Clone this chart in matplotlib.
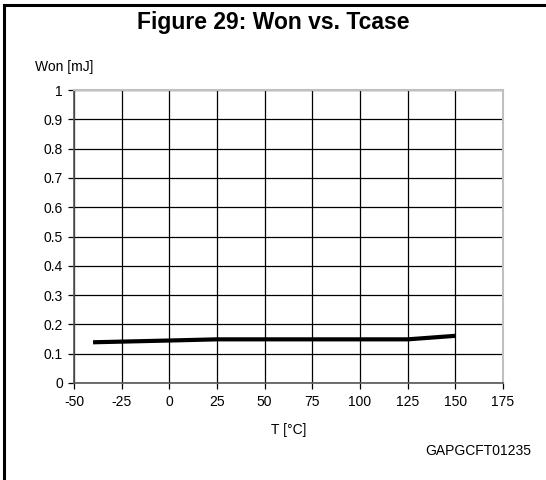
import matplotlib
matplotlib.use("Agg")
import matplotlib.pyplot as plt
from matplotlib.lines import Line2D

temps = [-40, 0, 25, 75, 125, 150]
won = [0.139, 0.145, 0.149, 0.149, 0.149, 0.161]
x_ticks = [-50, -25, 0, 25, 50, 75, 100, 125, 150, 175]
y_ticks = [0, 0.1, 0.2, 0.3, 0.4, 0.5, 0.6, 0.7, 0.8, 0.9, 1]
y_tick_labels = ["0", "0.1", "0.2", "0.3", "0.4", "0.5", "0.6", "0.7", "0.8", "0.9", "1"]

plt.rcParams['font.family'] = ['Liberation Sans', 'DejaVu Sans']

W, H = 546, 480
fig = plt.figure(figsize=(W / 100, H / 100), dpi=100)

def fx(px):
    return px / W

def fy(py):
    return 1 - py / H

left, right, top, bottom = 74, 503, 90, 383
ax = fig.add_axes([fx(left), fy(bottom), fx(right - left), (bottom - top) / H])

ax.plot(temps, won, color='black', lw=3, solid_capstyle='butt', zorder=3)
ax.set_xlim(-50, 175)
ax.set_ylim(0, 1)
ax.set_xticks(x_ticks)
ax.set_xticklabels([str(t) for t in x_ticks])
ax.set_yticks(y_ticks)
ax.set_yticklabels(y_tick_labels)
ax.grid(True, color='black', lw=0.9)
ax.tick_params(axis='both', direction='out', length=4, width=0.9, labelsize=10, colors='black')
ax.tick_params(axis='x', pad=5)
ax.tick_params(axis='y', pad=4)
for s in ['top', 'right']:
    ax.spines[s].set_color('#c0c0c0')
    ax.spines[s].set_linewidth(1.5)
for s in ['left', 'bottom']:
    ax.spines[s].set_color('#555555')
    ax.spines[s].set_linewidth(1.2)

ax.set_xlabel('T [°C]', fontsize=10, labelpad=10)

fig.text(fx(273), fy(22), 'Figure 29: Won vs. Tcase', ha='center', va='center',
         fontsize=16.5, fontweight='bold')
fig.text(fx(35), fy(67), 'Won [mJ]', ha='left', va='center', fontsize=10)
fig.text(fx(531), fy(451), 'GAPGCFT01235', ha='right', va='center', fontsize=10)

fig.add_artist(Line2D([fx(4), fx(4)], [fy(5), 0], color='black', lw=2.2))
fig.add_artist(Line2D([fx(4), 1], [fy(5), fy(5)], color='black', lw=2.2))

fig.savefig('out.png', dpi=100)
